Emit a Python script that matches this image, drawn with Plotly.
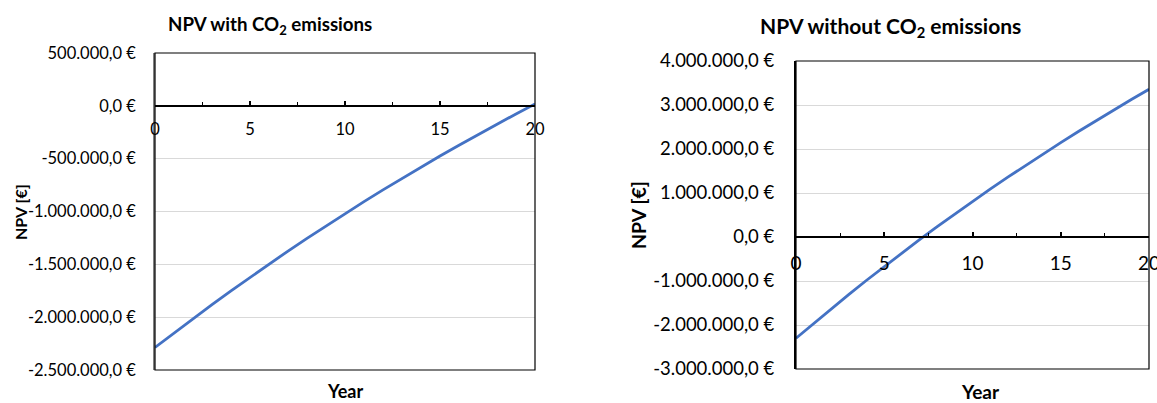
import plotly.graph_objects as go

# Years of operation
years = list(range(0, 21))

# Net present value per year, including the cost of CO2 emissions (EUR)
npv_with_co2 = [
    -2287000, -2148800, -2013200, -1880400, -1750100, -1622400, -1497200,
    -1374400, -1254100, -1136100, -1020500, -907100, -795900, -686900,
    -580000, -475200, -372500, -271800, -173100, -76300, 18500,
]

# Net present value per year, without the cost of CO2 emissions (EUR)
npv_without_co2 = [
    -2300000, -1960800, -1628200, -1302200, -982500, -669100, -361900,
    -60700, 234600, 524100, 808000, 1086200, 1359100, 1626500,
    1888700, 2145900, 2397900, 2645000, 2887200, 3124800, 3357600,
]

# Value axis ticks for each chart
ticks_with = [500000, 0, -500000, -1000000, -1500000, -2000000, -2500000]
ticks_without = [4000000, 3000000, 2000000, 1000000, 0, -1000000, -2000000, -3000000]
year_ticks = [0, 5, 10, 15, 20]


def euro(v):
    s = f"{v:,.1f}".replace(",", "X").replace(".", ",").replace("X", ".")
    return s + " €"


W, H = 1157, 403
FONT = "Lato"
LINE = "#4472C4"
GRID = "#D9D9D9"


def px_x(a, b):
    return [a / W, b / W]


def px_y(top, bottom):
    return [1 - bottom / H, 1 - top / H]


dom_x1, dom_y1 = px_x(155, 535), px_y(53, 370)
dom_x2, dom_y2 = px_x(796, 1149), px_y(61, 369)

rng1 = [min(ticks_with), max(ticks_with)]
rng2 = [min(ticks_without), max(ticks_without)]


def zero_pos(dom, rng):
    return dom[0] + (0 - rng[0]) / (rng[1] - rng[0]) * (dom[1] - dom[0])


fig = go.Figure()
fig.add_trace(go.Scatter(x=years, y=npv_with_co2, mode="lines",
                         line=dict(color=LINE, width=2.8), xaxis="x", yaxis="y",
                         showlegend=False, hoverinfo="x+y", cliponaxis=False))
fig.add_trace(go.Scatter(x=years, y=npv_without_co2, mode="lines",
                         line=dict(color=LINE, width=2.8), xaxis="x2", yaxis="y2",
                         showlegend=False, hoverinfo="x+y", cliponaxis=False))

common_x = dict(range=[0, 20], tickvals=year_ticks, showgrid=False, zeroline=False,
                showline=True, linecolor="black", linewidth=1.5,
                ticks="inside", ticklen=4, tickwidth=1.5, tickcolor="black",
                minor=dict(dtick=2.5, ticks="inside", ticklen=3, tickwidth=1.2,
                           tickcolor="black", showgrid=False),
                anchor="free", automargin=False, ticklabeloverflow="allow")

common_y = dict(showgrid=True, gridcolor=GRID, gridwidth=1, zeroline=False,
                ticks="", automargin=False, ticklabeloverflow="allow")

fig.update_layout(
    width=W, height=H,
    margin=dict(l=0, r=0, t=0, b=0, autoexpand=False),
    paper_bgcolor="white", plot_bgcolor="white",
    font=dict(family=FONT, color="black"),
    xaxis=dict(common_x, domain=dom_x1, position=zero_pos(dom_y1, rng1),
               tickfont=dict(size=16.5), ticklabelstandoff=9),
    yaxis=dict(common_y, domain=dom_y1, range=rng1, tickvals=ticks_with,
               ticktext=[euro(v) for v in ticks_with], anchor="x",
               showline=True, linecolor="#808080", linewidth=1.5,
               tickfont=dict(size=16.5), ticklabelstandoff=14),
    xaxis2=dict(common_x, domain=dom_x2, position=zero_pos(dom_y2, rng2),
                tickfont=dict(size=19), ticklabelstandoff=9),
    yaxis2=dict(common_y, domain=dom_y2, range=rng2, tickvals=ticks_without,
                ticktext=[euro(v) for v in ticks_without], anchor="x2",
                showline=True, linecolor="black", linewidth=2,
                tickfont=dict(size=18.5), ticklabelstandoff=16),
)

# Plot-area frames
for xr, yr in (("x domain", "y domain"), ("x2 domain", "y2 domain")):
    fig.add_shape(type="rect", xref=xr, yref=yr, x0=0, x1=1, y0=0, y1=1,
                  line=dict(color="black", width=1.2), layer="above")

# Chart titles and axis titles
notes = [
    dict(text="<b>NPV with CO<sub>2</sub> emissions</b>", x=270, y=25, size=18.7, angle=0),
    dict(text="<b>NPV without CO<sub>2</sub> emissions</b>", x=890, y=27, size=21, angle=0),
    dict(text="<b>NPV [€]</b>", x=20, y=212, size=16, angle=-90),
    dict(text="<b>NPV [€]</b>", x=638, y=215, size=19.5, angle=-90),
    dict(text="<b>Year</b>", x=345, y=391, size=18, angle=0),
    dict(text="<b>Year</b>", x=980, y=391, size=19, angle=0),
]
for n in notes:
    fig.add_annotation(text=n["text"], x=n["x"] / W, y=1 - n["y"] / H,
                       xref="paper", yref="paper", xanchor="center", yanchor="middle",
                       showarrow=False, textangle=n["angle"],
                       font=dict(family=FONT, size=n["size"], color="black"))

fig.write_html("out.html")
